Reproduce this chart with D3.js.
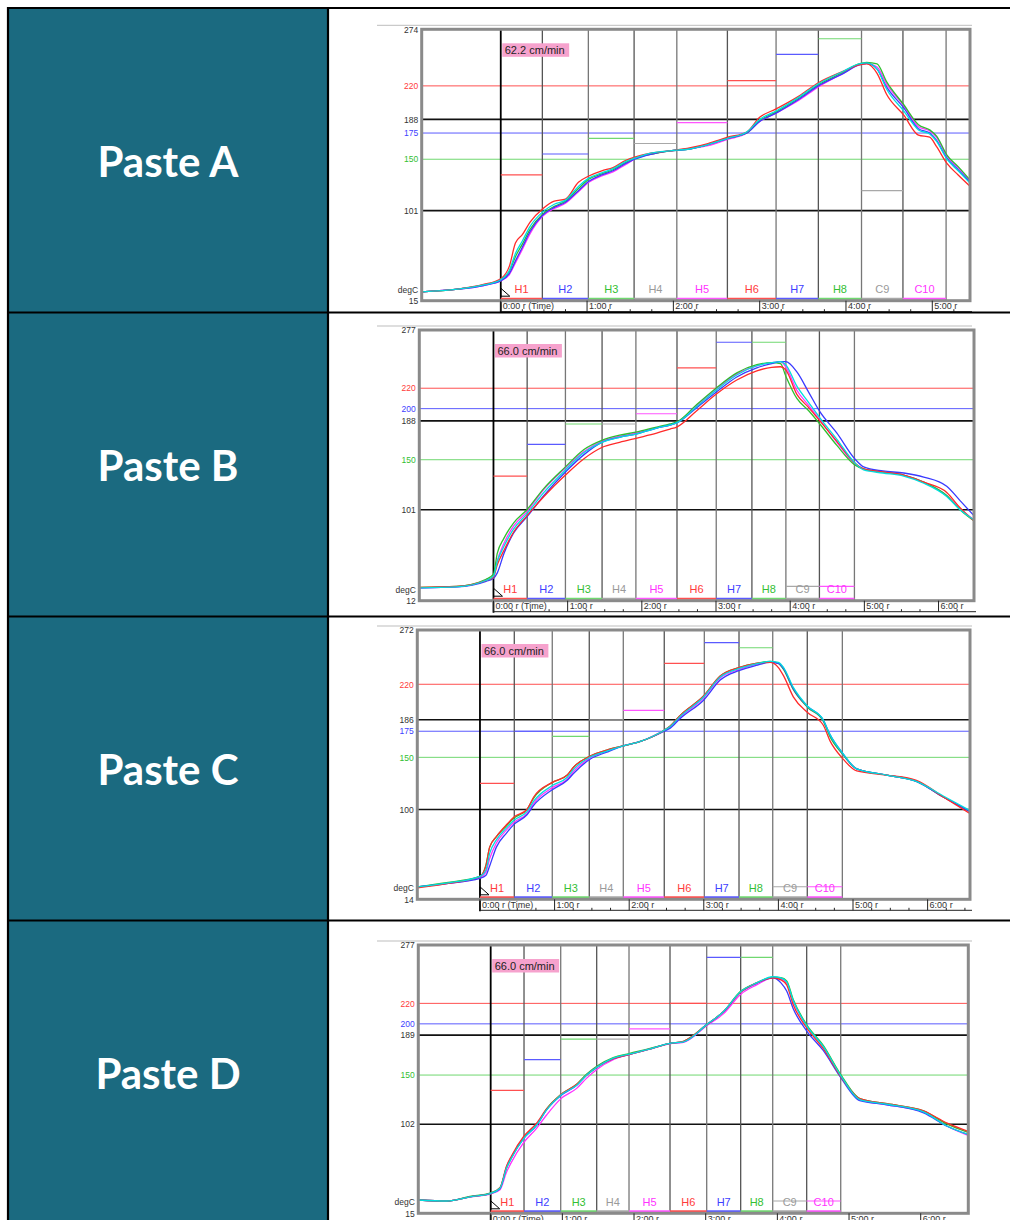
<!DOCTYPE html>
<html>
<head>
<meta charset="utf-8">
<script src="https://cdn.jsdelivr.net/npm/d3@7"></script>
<style>
  body { margin: 0; background: #fff; }
  svg { display: block; font-family: "Liberation Sans", Arial, sans-serif; }
</style>
</head>
<body>
<div id="chart"></div>
<script>

// ---- data ----
var pastes = ["Paste A", "Paste B", "Paste C", "Paste D"];
var speeds = ["62.2 cm/min", "66.0 cm/min", "66.0 cm/min", "66.0 cm/min"];
var zoneNames = ["H1", "H2", "H3", "H4", "H5", "H6", "H7", "H8", "C9", "C10"];
var zoneKinds = ["red", "blue", "green", "gray", "magenta", "red", "blue", "green", "gray", "magenta"];

// temperature axis (degC) and time axis (minutes) ranges
var yDomains = [[15, 274], [12, 277], [14, 272], [15, 277]];
var tDomains = [[-0.916, 5.437], [-1.0, 6.478], [-0.84, 6.568], [-1.01, 6.664]];

// reference temperature lines
var refValues = [
  [220, 188, 175, 150, 101],
  [220, 200, 188, 150, 101],
  [220, 186, 175, 150, 100],
  [220, 200, 189, 150, 102]
];
var refKinds = [
  ["red", "black", "blue", "green", "black"],
  ["red", "blue", "black", "green", "black"],
  ["red", "black", "blue", "green", "black"],
  ["red", "blue", "black", "green", "black"]
];

// zone boundaries (minutes)
var zoneEdges = [
  [0, 0.482, 1.015, 1.545, 2.04, 2.626, 3.19, 3.68, 4.18, 4.66, 5.16],
  [0, 0.454, 0.97, 1.464, 1.92, 2.474, 3.003, 3.484, 3.942, 4.394, 4.866],
  [0, 0.46, 0.969, 1.465, 1.921, 2.47, 3.007, 3.472, 3.924, 4.387, 4.857],
  [0, 0.465, 0.977, 1.479, 1.93, 2.502, 3.014, 3.488, 3.935, 4.409, 4.884]
];

// zone set temperatures (null = not shown)
var setpoints = [
  [135, 155, 170, 165, 185, 225, 250, 265, 120, null],
  [134, 165, 185, 185, 195, 240, 265, 265, 26, 26],
  [125, 175, 170, 186, 195, 240, 260, 255, 26, 26],
  [135, 165, 185, 185, 195, 220, 265, 265, 27, 27]
];

// Paste A profiles
var timeA = [-0.92, -0.5, -0.2, 0, 0.1, 0.17, 0.25, 0.34, 0.49, 0.62, 0.75, 0.9, 1.02, 1.17, 1.3, 1.45, 1.55, 1.75, 1.96, 2.2, 2.4, 2.63, 2.85, 3.0, 3.19, 3.45, 3.68, 3.97, 4.15, 4.24, 4.36, 4.47, 4.67, 4.84, 4.97, 5.05, 5.17, 5.3, 5.44];
var redA = [23.5, 26, 30.5, 36, 48, 70, 78, 90, 103, 110, 112, 128, 134, 139, 142, 149, 152, 156, 158, 161, 165, 171, 176, 190, 198, 210, 223, 234, 240, 241, 232, 212, 192, 173, 171, 162, 146, 135, 124];
var blueA = [23.5, 26, 29.5, 34, 41, 53, 66, 81, 97, 104, 109, 120, 129, 135, 139, 146, 150, 155, 158, 160, 164, 170, 175, 186, 194, 207, 220, 232, 240, 241.5, 236, 219, 199, 179, 175, 168, 151, 140, 128];
var greenA = [23.5, 26, 30, 35, 43, 57, 69, 83, 98, 105, 110, 122, 131, 136, 140, 147, 151, 155, 158, 160, 164, 170, 175, 187, 195, 208, 221, 233, 241, 242.5, 241, 224, 202, 183, 178, 172, 154, 143, 130];
var magentaA = [23.5, 26, 29.5, 34, 40, 51, 64, 79, 96, 103, 108, 119, 128, 134, 138, 145, 150, 155, 158, 160, 163, 169, 175, 186, 194, 206, 219, 232, 240, 241.5, 238, 222, 201, 181, 177, 171, 153, 142, 129];
var cyanA = [23.5, 26, 30, 35, 44, 60, 72, 86, 100, 107, 111, 124, 132, 137, 141, 148, 151, 156, 158, 160, 164, 170, 176, 188, 196, 209, 222, 234, 241, 242, 236, 217, 196, 178, 174, 167, 150, 139, 127];

// Paste B profiles
var timeB = [-0.99, -0.5, -0.1, 0, 0.05, 0.14, 0.27, 0.45, 0.68, 0.97, 1.22, 1.46, 1.7, 1.92, 2.2, 2.38, 2.47, 2.74, 3.0, 3.28, 3.55, 3.75, 3.87, 3.94, 4.09, 4.25, 4.4, 4.63, 4.87, 4.99, 5.25, 5.53, 5.8, 6.11, 6.29, 6.48];
var redB = [25, 26, 32, 35, 47, 61, 79, 95, 114, 135, 151, 162, 167, 171, 176, 180, 182, 198, 214, 228, 237, 240.5, 241, 238, 214, 201, 188, 168, 147, 141, 138, 135, 128, 118, 103, 90];
var blueB = [24.5, 25.5, 31, 34, 39, 58, 78, 94, 115, 138, 155, 167, 172, 175, 181, 184, 186, 201, 216, 231, 240, 244, 246, 246, 236, 216, 197, 176, 151, 143, 139, 137, 133, 124, 110, 95];
var greenB = [25, 26, 33, 38, 58, 73, 88, 101, 122, 143, 160, 169, 174, 177, 182, 185, 187, 204, 220, 235, 243, 245, 244, 232, 210, 198, 185, 164, 145, 141, 138, 135, 128, 115, 101, 90];
var magentaB = [24.5, 25.5, 32, 36, 51, 68, 85, 99, 121, 142, 158, 168, 173, 176, 181, 184, 186, 203, 219, 234, 242, 245, 246, 241, 218, 203, 189, 167, 146, 141, 138, 135, 128, 115, 102, 91];
var cyanB = [24.5, 25.5, 32, 36, 50, 65, 82, 97, 118, 140, 157, 167, 172, 175, 181, 184, 186, 202, 218, 233, 242, 245, 246, 243, 222, 206, 191, 170, 147, 140, 137, 134, 127, 114, 101, 91];

// Paste C profiles
var timeC = [-0.84, -0.45, 0, 0.08, 0.13, 0.22, 0.35, 0.46, 0.63, 0.72, 0.97, 1.17, 1.26, 1.47, 1.7, 1.92, 2.14, 2.47, 2.55, 2.68, 3.0, 3.22, 3.47, 3.7, 3.89, 4.0, 4.07, 4.2, 4.39, 4.6, 4.69, 4.86, 5.05, 5.45, 5.85, 6.21, 6.57];
var redC = [25, 29, 36, 46, 64, 74, 85, 93, 100, 112, 126, 133, 141, 151, 157, 161, 165, 176, 180, 190, 209, 228, 236, 240, 241, 236, 228, 208, 193, 181, 166, 149, 137, 133, 128, 112, 96];
var blueC = [26, 29, 34, 37, 46, 64, 77, 86, 95, 104, 119, 128, 135, 148, 155, 161, 165, 175, 178, 187, 205, 224, 233, 238, 241, 240, 235, 216, 199, 186, 172, 154, 139, 133, 127, 112, 98];
var greenC = [26, 30, 36, 47, 64, 74, 84, 92, 100, 111, 126, 133, 141, 151, 157, 161, 165, 176, 180, 190, 209, 228, 236, 240, 242, 240, 234, 215, 198, 185, 170, 153, 139, 133, 127, 112, 98];
var magentaC = [26, 29, 35, 40, 53, 68, 80, 88, 96, 106, 121, 129, 137, 149, 156, 161, 165, 176, 179, 188, 207, 226, 234, 239, 241.5, 240, 235, 215, 198, 185, 171, 153, 139, 133, 127, 112, 98];
var cyanC = [26, 29.5, 36, 42, 58, 71, 82, 90, 98, 108, 123, 131, 139, 150, 156, 161, 165, 176, 179.5, 189, 208, 227, 235, 239.5, 242, 241, 236, 217, 199, 186, 172, 154, 139, 133, 127, 113, 99];

// Paste D profiles
var timeD = [-1.01, -0.61, -0.29, 0, 0.13, 0.22, 0.29, 0.46, 0.64, 0.78, 0.98, 1.2, 1.34, 1.49, 1.71, 1.93, 2.2, 2.5, 2.69, 3.01, 3.25, 3.49, 3.71, 3.94, 4.05, 4.13, 4.22, 4.41, 4.64, 4.88, 5.15, 5.53, 6.04, 6.37, 6.66];
var redD = [28, 27, 31, 34.5, 40, 61, 71, 90, 103, 117, 131, 141, 150, 158, 166, 170, 175, 181, 183, 199, 212, 231, 240, 245, 243, 238, 219, 196, 176, 149, 127, 122, 115, 103, 95];
var blueD = [28, 27, 31, 34.5, 39, 60, 70, 88, 101, 116, 130, 140, 150, 158, 166, 170, 175, 181, 182.5, 199, 212, 231, 239.5, 245, 240, 232, 215, 193, 174, 148, 125, 121, 113, 100, 92];
var greenD = [28, 27, 31.5, 35, 40, 59, 69, 89, 101, 117, 131, 141, 151, 159, 167, 171, 175.5, 181, 183, 199, 212, 232, 240, 245.5, 245, 242, 224, 199, 179, 151, 127, 122, 115, 102, 94];
var magentaD = [28, 27, 31, 34, 38, 55, 65, 84, 98, 111, 127, 137, 147, 156, 165, 170, 175, 180.5, 182, 198, 210, 229, 238, 245, 244, 240, 222, 198, 178, 150, 126, 121, 114, 100, 91];
var cyanD = [28, 27, 31, 34.5, 39.5, 59, 69, 88, 101, 116, 130.5, 140, 150, 158, 166.5, 170.5, 175, 181, 182.5, 199, 212, 231.5, 240, 246, 245, 241, 223, 198, 178, 150, 126, 121.5, 114, 100, 92];

var profiles = [
  { time: timeA, series: [magentaA, greenA, blueA, redA, cyanA] },
  { time: timeB, series: [magentaB, greenB, blueB, redB, cyanB] },
  { time: timeC, series: [magentaC, greenC, blueC, redC, cyanC] },
  { time: timeD, series: [magentaD, greenD, blueD, redD, cyanD] }
];
var seriesKinds = ["magenta", "green", "blue", "red", "cyan"];

// ---- styles / layout ----
var curveColor = { red: "#ff2a2a", blue: "#3a3aff", green: "#2fbf2f", magenta: "#ff30ff", cyan: "#00dede" };
var refColor = { red: "#ff5050", blue: "#5a5aff", green: "#70d870", black: "#111" };
var labelColor = { red: "#ff3b3b", blue: "#4040ff", green: "#33c033", gray: "#9a9a9a", magenta: "#ff33ff", black: "#333" };

var frames = [
  { l: 421.7, t: 29.3, r: 970, b: 300.7 },
  { l: 419.3, t: 330, r: 974, b: 600.7 },
  { l: 417.3, t: 630, r: 970, b: 899.3 },
  { l: 418.3, t: 945, r: 968.3, b: 1213.3 }
];
var rowTops = [9, 313, 617, 921];

var svg = d3.select("#chart")
    .append("svg")
    .attr("width", 1010)
    .attr("height", 1220);

svg.append("rect").attr("width", 1010).attr("height", 1220).attr("fill", "#fff");

// left column cells
pastes.forEach(function (name, i) {
    svg.append("rect")
        .attr("x", 8)
        .attr("y", rowTops[i])
        .attr("width", 320)
        .attr("height", 304)
        .attr("fill", "#1b6a80");
    svg.append("text")
        .attr("x", 168)
        .attr("y", rowTops[i] + 168)
        .attr("text-anchor", "middle")
        .style("font-family", "Lato, 'Open Sans', sans-serif")
        .style("font-weight", 700)
        .style("font-size", "42px")
        .attr("fill", "#fff")
        .text(name);
});

// each profile chart
frames.forEach(function (f, i) {
    var x = d3.scaleLinear().domain(tDomains[i]).range([f.l, f.r]);
    var y = d3.scaleLinear().domain(yDomains[i]).range([f.b, f.t]);
    var g = svg.append("g");

    g.append("clipPath").attr("id", "clip" + i)
        .append("rect")
        .attr("x", f.l).attr("y", f.t)
        .attr("width", f.r - f.l).attr("height", f.b - f.t);

    // thin rule above the plot
    g.append("line")
        .attr("x1", 377).attr("x2", 972)
        .attr("y1", f.t - 4).attr("y2", f.t - 4)
        .attr("stroke", "#bdbdbd");

    // reference temperature lines
    refValues[i].forEach(function (v, k) {
        var kind = refKinds[i][k];
        g.append("line")
            .attr("x1", f.l).attr("x2", f.r)
            .attr("y1", y(v)).attr("y2", y(v))
            .attr("stroke", refColor[kind])
            .attr("stroke-width", kind == "black" ? 1.6 : 1);
    });

    // zone boundaries
    zoneEdges[i].forEach(function (e, k) {
        g.append("line")
            .attr("x1", x(e)).attr("x2", x(e))
            .attr("y1", f.t).attr("y2", k == 0 ? f.b + 12 : f.b)
            .attr("stroke", k == 0 ? "#000" : (k % 2 ? "#555" : "#777"))
            .attr("stroke-width", k == 0 ? 1.8 : 1.3);
    });

    // zone set temperatures, colour bars and names
    zoneNames.forEach(function (z, k) {
        var x0 = x(zoneEdges[i][k]), x1 = x(zoneEdges[i][k + 1]);
        var kind = zoneKinds[k];
        var c = kind == "gray" ? "#a8a8a8" : (kind == "magenta" ? "#ff55ff" : refColor[kind]);
        if (setpoints[i][k] != null) {
            g.append("line")
                .attr("x1", x0).attr("x2", x1)
                .attr("y1", y(setpoints[i][k])).attr("y2", y(setpoints[i][k]))
                .attr("stroke", c)
                .attr("stroke-width", 1.2);
        }
        g.append("line")
            .attr("x1", x0).attr("x2", x1)
            .attr("y1", f.b - 2).attr("y2", f.b - 2)
            .attr("stroke", c)
            .attr("stroke-width", 2);
        g.append("text")
            .attr("x", (x0 + x1) / 2)
            .attr("y", f.b - 7.5)
            .attr("text-anchor", "middle")
            .style("font-size", "11px")
            .attr("fill", labelColor[kind])
            .text(z);
    });

    // start marker
    var x0 = x(0);
    g.append("path")
        .attr("d", "M" + x0 + "," + (f.b - 12.5) + "L" + x0 + "," + (f.b - 4.5) + "L" + (x0 + 9) + "," + (f.b - 4.5) + "Z")
        .attr("fill", "none")
        .attr("stroke", "#000");

    // temperature profiles
    var line = d3.line()
        .x(function (d) { return x(d[0]); })
        .y(function (d) { return y(d[1]); })
        .curve(d3.curveMonotoneX);
    var pr = profiles[i];
    pr.series.forEach(function (s, k) {
        g.append("path")
            .datum(pr.time.map(function (t, j) { return [t, s[j]]; }))
            .attr("clip-path", "url(#clip" + i + ")")
            .attr("d", line)
            .attr("fill", "none")
            .attr("stroke", curveColor[seriesKinds[k]])
            .attr("stroke-width", 1.3);
    });

    // plot frame
    g.append("rect")
        .attr("x", f.l).attr("y", f.t)
        .attr("width", f.r - f.l).attr("height", f.b - f.t)
        .attr("fill", "none")
        .attr("stroke", "#8a8a8a")
        .attr("stroke-width", 3);

    // temperature labels
    var yTicks = [yDomains[i][1]].concat(refValues[i]).concat([yDomains[i][0]]);
    var yKinds = ["black"].concat(refKinds[i]).concat(["black"]);
    var ya = g.append("g")
        .attr("transform", "translate(" + (f.l - 1.5) + ",0)")
        .call(d3.axisLeft(y).tickValues(yTicks).tickSize(0).tickPadding(2).tickFormat(d3.format("d")));
    ya.select(".domain").remove();
    ya.selectAll("text")
        .style("font-family", "'Liberation Sans', Arial, sans-serif")
        .style("font-size", "8.5px")
        .attr("fill", function (d, k) { return labelColor[yKinds[k]]; });

    g.append("text")
        .attr("x", f.l - 3.5)
        .attr("y", f.b - 8)
        .attr("text-anchor", "end")
        .style("font-size", "8.5px")
        .attr("fill", "#333")
        .text("degC");

    // time axis under the plot
    var tMax = tDomains[i][1];
    var quarters = d3.range(0, tMax, 0.25).filter(function (q) { return q % 1 != 0; });
    var minutes = d3.range(0, Math.floor(tMax) + 1);
    g.append("line")
        .attr("x1", x0).attr("x2", f.r + 2)
        .attr("y1", f.b + 11).attr("y2", f.b + 11)
        .attr("stroke", "#222");
    quarters.forEach(function (q) {
        g.append("line")
            .attr("x1", x(q)).attr("x2", x(q))
            .attr("y1", f.b + 8.5).attr("y2", f.b + 11)
            .attr("stroke", "#222");
    });
    minutes.forEach(function (m) {
        g.append("line")
            .attr("x1", x(m)).attr("x2", x(m))
            .attr("y1", f.b).attr("y2", f.b + 11)
            .attr("stroke", "#222");
        g.append("text")
            .attr("x", x(m) + 2)
            .attr("y", f.b + 8.5)
            .style("font-size", "9px")
            .attr("fill", "#333")
            .text(m + ":00 r" + (m == 0 ? " (Time)" : ""));
    });

    // conveyor speed label
    var st = g.append("text")
        .attr("x", x0 + 4)
        .attr("y", f.t + 24.5)
        .style("font-size", "11px")
        .attr("fill", "#222")
        .text(speeds[i]);
    var tw = st.node().getComputedTextLength();
    g.insert("rect", function () { return st.node(); })
        .attr("x", x0 + 1.5).attr("y", f.t + 14)
        .attr("width", tw + 7).attr("height", 13.5)
        .attr("fill", "#f6a2cd");
});

// table grid
[8, 312.5, 616.5, 920.5].forEach(function (yy) {
    svg.append("line")
        .attr("x1", 7).attr("x2", 1010)
        .attr("y1", yy).attr("y2", yy)
        .attr("stroke", "#000").attr("stroke-width", 2);
});
[8, 328].forEach(function (xx) {
    svg.append("line")
        .attr("x1", xx).attr("x2", xx)
        .attr("y1", 7).attr("y2", 1220)
        .attr("stroke", "#000").attr("stroke-width", 2.2);
});
</script>
</body>
</html>
